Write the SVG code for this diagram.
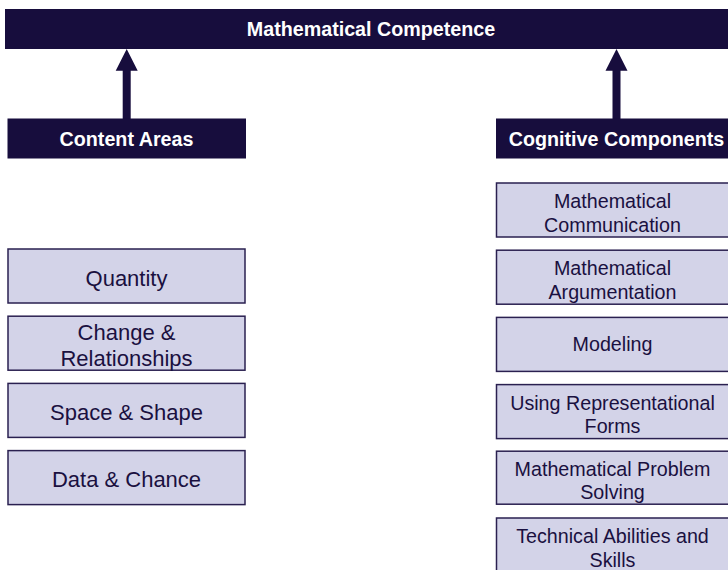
<svg xmlns="http://www.w3.org/2000/svg" width="728" height="570" viewBox="0 0 728 570">
<style>
.dark{fill:#170D3D;}
.hd{fill:#FFFFFF;font-family:"Liberation Sans",Arial,sans-serif;font-weight:bold;font-size:19.7px;text-anchor:middle;}
.box{fill:#D3D3E8;stroke:#2A2050;stroke-width:1.5;}
.tl{fill:#1A1040;font-family:"Liberation Sans",Arial,sans-serif;font-size:22px;text-anchor:middle;}
.tr{fill:#1A1040;font-family:"Liberation Sans",Arial,sans-serif;font-size:19.7px;text-anchor:middle;}
</style>
<rect width="728" height="570" fill="#FFFFFF"/>
<g id="mathematical-competence">
<rect class="dark" x="5" y="9" width="732" height="40"/>
<text class="hd" x="371" y="36">Mathematical Competence</text>
</g>
<g id="connectors">
<path class="dark" d="M122.7,119 V70.7 H115.7 L126.7,49 L137.7,70.7 H130.7 V119 Z"/>
<path class="dark" d="M612.5,119 V70.7 H605.5 L616.5,49 L627.5,70.7 H620.5 V119 Z"/>
</g>
<g id="content-areas">
<rect class="dark" x="7.5" y="118.5" width="238.5" height="40"/>
<text class="hd" x="126.5" y="145.5">Content Areas</text>
</g>
<g id="cognitive-components">
<rect class="dark" x="496" y="118.5" width="241" height="40"/>
<text class="hd" x="616.5" y="145.5">Cognitive Components</text>
</g>
<g id="quantity">
<rect class="box" x="8" y="249" width="237" height="54"/>
<text class="tl" x="126.5" y="285.5">Quantity</text>
</g>
<g id="change-relationships">
<rect class="box" x="8" y="316.2" width="237" height="54"/>
<text class="tl" x="126.5" y="339.5">Change &amp;</text>
<text class="tl" x="126.5" y="366">Relationships</text>
</g>
<g id="space-shape">
<rect class="box" x="8" y="383.4" width="237" height="54"/>
<text class="tl" x="126.5" y="419.5">Space &amp; Shape</text>
</g>
<g id="data-chance">
<rect class="box" x="8" y="450.6" width="237" height="54"/>
<text class="tl" x="126.5" y="487">Data &amp; Chance</text>
</g>
<g id="mathematical-communication">
<rect class="box" x="496.5" y="183" width="240" height="54"/>
<text class="tr" x="612.5" y="208">Mathematical</text>
<text class="tr" x="612.5" y="231.6">Communication</text>
</g>
<g id="mathematical-argumentation">
<rect class="box" x="496.5" y="250.2" width="240" height="54"/>
<text class="tr" x="612.5" y="275.2">Mathematical</text>
<text class="tr" x="612.5" y="298.8">Argumentation</text>
</g>
<g id="modeling">
<rect class="box" x="496.5" y="317.4" width="240" height="54"/>
<text class="tr" x="612.5" y="351.4">Modeling</text>
</g>
<g id="using-representational-forms">
<rect class="box" x="496.5" y="384.6" width="240" height="54"/>
<text class="tr" x="612.5" y="409.6">Using Representational</text>
<text class="tr" x="612.5" y="433.2">Forms</text>
</g>
<g id="mathematical-problem-solving">
<rect class="box" x="496.5" y="451.2" width="240" height="53"/>
<text class="tr" x="612.5" y="475.7">Mathematical Problem</text>
<text class="tr" x="612.5" y="499.3">Solving</text>
</g>
<g id="technical-abilities-skills">
<rect class="box" x="496.5" y="518" width="240" height="54"/>
<text class="tr" x="612.5" y="543">Technical Abilities and</text>
<text class="tr" x="612.5" y="566.6">Skills</text>
</g>
</svg>
